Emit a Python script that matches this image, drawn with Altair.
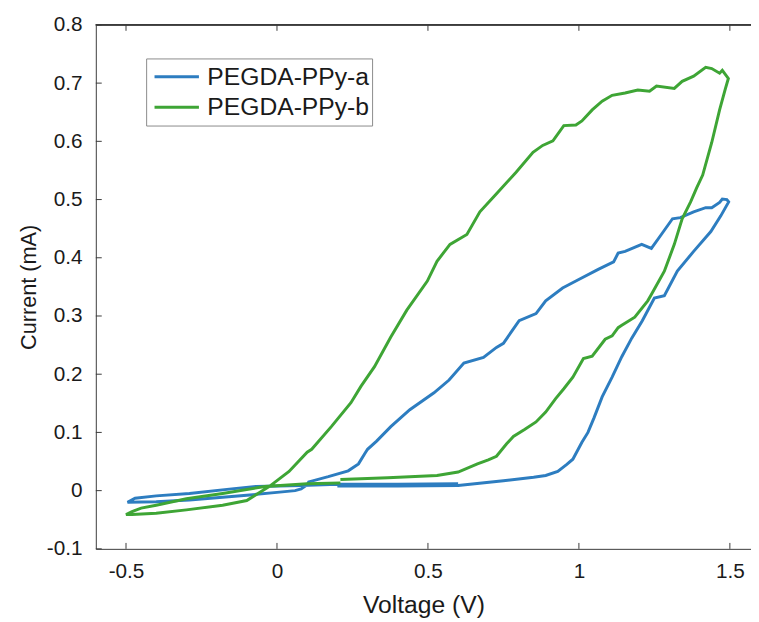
import altair as alt
import pandas as pd

series_names = ["PEGDA-PPy-a", "PEGDA-PPy-b"]
series_colors = ["#2d7dc0", "#3ea535"]

x_ticks = [-0.5, 0, 0.5, 1, 1.5]
y_ticks = [-0.1, 0, 0.1, 0.2, 0.3, 0.4, 0.5, 0.6, 0.7, 0.8]

blue_v = [0.2, 0.4, 0.6, 0.75, 0.85, 0.89, 0.93, 0.96, 0.98, 1.01, 1.03, 1.05, 1.077, 1.11,
          1.142, 1.175, 1.21, 1.25, 1.283, 1.326, 1.38, 1.437, 1.47, 1.496, 1.49, 1.475,
          1.466, 1.44, 1.42, 1.38, 1.336, 1.31, 1.273, 1.24, 1.208, 1.153, 1.13, 1.115,
          1.064, 0.99, 0.946, 0.89, 0.858, 0.802, 0.75, 0.727, 0.684, 0.619, 0.57, 0.52,
          0.44, 0.377, 0.33, 0.30, 0.29, 0.27, 0.236, 0.17, 0.105, 0.1, 0.08, 0.06, 0.0,
          -0.1, -0.29, -0.4, -0.495, -0.47, -0.4, -0.29, -0.15, -0.07, 0.08, 0.2, 0.4, 0.6]
blue_i = [0.008, 0.008, 0.009, 0.017, 0.023, 0.026, 0.033, 0.045, 0.054, 0.083, 0.1, 0.125,
          0.161, 0.195, 0.23, 0.262, 0.292, 0.331, 0.335, 0.377, 0.411, 0.445, 0.472, 0.496,
          0.5, 0.501, 0.495, 0.486, 0.486, 0.479, 0.469, 0.467, 0.44, 0.416, 0.423, 0.411,
          0.408, 0.393, 0.38, 0.36, 0.348, 0.326, 0.304, 0.292, 0.253, 0.246, 0.229, 0.219,
          0.19, 0.168, 0.139, 0.11, 0.085, 0.071, 0.063, 0.046, 0.034, 0.024, 0.015, 0.01,
          0.003, 0.0, -0.003, -0.008, -0.016, -0.019, -0.02, -0.013, -0.009, -0.005, 0.003,
          0.007, 0.009, 0.011, 0.011, 0.012]

green_v = [0.21, 0.367, 0.53, 0.6, 0.664, 0.70, 0.727, 0.76, 0.783, 0.82, 0.858, 0.89, 0.923,
           0.95, 0.98, 1.015, 1.044, 1.087, 1.11, 1.13, 1.142, 1.185, 1.228, 1.24, 1.283,
           1.316, 1.342, 1.37, 1.39, 1.41, 1.44, 1.466, 1.485, 1.495, 1.475, 1.466, 1.44,
           1.42, 1.38, 1.342, 1.316, 1.257, 1.234, 1.195, 1.153, 1.11, 1.077, 1.044, 1.01,
           0.99, 0.95, 0.914, 0.88, 0.848, 0.792, 0.727, 0.672, 0.629, 0.573, 0.53, 0.498,
           0.43, 0.377, 0.323, 0.278, 0.245, 0.18, 0.115, 0.1, 0.04, -0.026, -0.1, -0.18,
           -0.3, -0.4, -0.48, -0.5, -0.48, -0.45, -0.4, -0.3, -0.18, -0.04, 0.1, 0.21]
green_i = [0.019, 0.022, 0.026, 0.032, 0.046, 0.053, 0.059, 0.08, 0.093, 0.105, 0.118, 0.135,
           0.158, 0.175, 0.195, 0.227, 0.231, 0.26, 0.266, 0.28, 0.284, 0.298, 0.326, 0.337,
           0.377, 0.423, 0.467, 0.496, 0.52, 0.542, 0.598, 0.654, 0.69, 0.708, 0.722, 0.717,
           0.725, 0.727, 0.712, 0.703, 0.691, 0.695, 0.686, 0.688, 0.683, 0.679, 0.669, 0.654,
           0.635, 0.628, 0.627, 0.601, 0.593, 0.581, 0.547, 0.51, 0.479, 0.44, 0.423, 0.394,
           0.36, 0.31, 0.264, 0.213, 0.179, 0.151, 0.11, 0.071, 0.066, 0.033, 0.007, -0.017,
           -0.025, -0.033, -0.039, -0.041, -0.041, -0.036, -0.03, -0.025, -0.014, -0.005,
           0.007, 0.012, 0.013]

rows = []
for name, vs, cs in [(series_names[0], blue_v, blue_i), (series_names[1], green_v, green_i)]:
    for k, (v, c) in enumerate(zip(vs, cs)):
        rows.append({"series": name, "v": v, "i": c, "k": k})
df = pd.DataFrame(rows)

W, H = 664, 531
FONT = "Liberation Sans"
AX = "#3a3a3a"
TXT = "#1a1a1a"

x_scale = alt.Scale(domain=[-0.6, 1.57], nice=False, zero=False)
y_scale = alt.Scale(domain=[-0.1, 0.8], nice=False, zero=False)

x_axis = alt.Axis(title="Voltage (V)", values=x_ticks, labelExpr="'' + datum.value",
                  labelPadding=12, titleY=45, titleBaseline="top", titleFontSize=25)
y_axis = alt.Axis(title="Current (mA)", values=y_ticks, labelExpr="'' + datum.value",
                  labelPadding=14, titleX=-56, titleY=H / 2)

lines = alt.Chart(df).mark_line(strokeWidth=3, clip=True).encode(
    x=alt.X("v:Q", scale=x_scale, axis=x_axis, title="Voltage (V)"),
    y=alt.Y("i:Q", scale=y_scale, axis=y_axis, title="Current (mA)"),
    color=alt.Color("series:N",
                    scale=alt.Scale(domain=series_names, range=series_colors),
                    legend=alt.Legend(title=None, orient="none", legendX=51, legendY=34,
                                      symbolType="stroke", symbolSize=2025, symbolOffset=4,
                                      symbolStrokeWidth=3, labelFontSize=25, labelFont=FONT,
                                      labelLimit=400, labelColor=TXT, strokeColor="#8a8a8a",
                                      fillColor="white", padding=3, labelOffset=7,
                                      rowPadding=-5, clipHeight=31)),
    order="k:Q",
)

xt = pd.DataFrame({"v": x_ticks})
yt = pd.DataFrame({"i": y_ticks})

bottom_ticks = alt.Chart(xt).mark_rule(color=AX, strokeWidth=1).encode(
    x=alt.X("v:Q", scale=x_scale, axis=x_axis, title="Voltage (V)"),
    y=alt.value(H), y2=alt.value(H - 6))
top_ticks = alt.Chart(xt).mark_rule(color=AX, strokeWidth=1).encode(
    x=alt.X("v:Q", scale=x_scale, axis=x_axis, title="Voltage (V)"),
    y=alt.value(0), y2=alt.value(6))
left_ticks = alt.Chart(yt).mark_rule(color=AX, strokeWidth=1).encode(
    y=alt.Y("i:Q", scale=y_scale, axis=y_axis, title="Current (mA)"),
    x=alt.value(0), x2=alt.value(6))
top_border = alt.Chart(xt).mark_rule(color=AX, strokeWidth=1).encode(
    x=alt.value(0), x2=alt.value(W), y=alt.value(0))

chart = alt.layer(lines, bottom_ticks, top_ticks, left_ticks, top_border).properties(
    width=W, height=H,
    autosize=alt.AutoSizeParams(type="none"),
    padding={"left": 89, "top": 13, "right": 0, "bottom": 70},
    background="white",
).configure_view(stroke=None).configure_axis(
    grid=False, ticks=False, domainColor=AX, domainWidth=1,
    labelFont=FONT, labelFontSize=21, labelColor=TXT,
    titleFont=FONT, titleFontSize=22, titleFontWeight="normal", titleColor=TXT,
)

chart.save("out.html", embed_options={"renderer": "svg", "actions": False})
